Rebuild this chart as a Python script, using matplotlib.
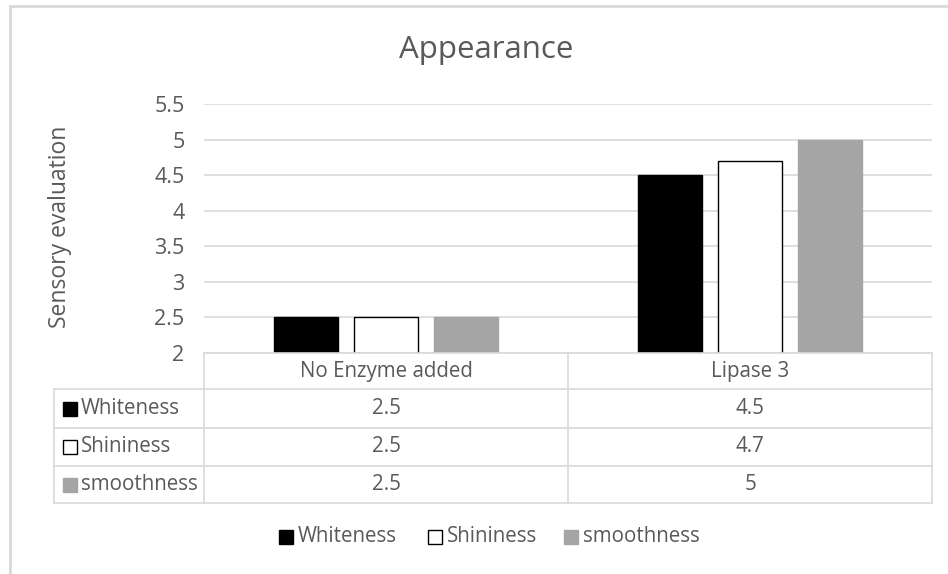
import matplotlib
matplotlib.use("Agg")
import matplotlib.pyplot as plt
from matplotlib.patches import Rectangle
from matplotlib.lines import Line2D
import numpy as np

plt.rcParams['font.family'] = ['Open Sans', 'DejaVu Sans']

categories = ["No Enzyme added", "Lipase 3"]
series_names = ["Whiteness", "Shininess", "smoothness"]
whiteness = [2.5, 4.5]
shininess = [2.5, 4.7]
smoothness = [2.5, 5.0]
yticks = [2, 2.5, 3, 3.5, 4, 4.5, 5, 5.5]

series_values = [whiteness, shininess, smoothness]
face_colors = ["#000000", "#ffffff", "#a5a5a5"]
edge_colors = ["#000000", "#000000", "#a5a5a5"]

TEXT = "#595959"
GRID = "#d9d9d9"
FS = 14.8
W, H = 948, 574
fig = plt.figure(figsize=(W / 100, H / 100), dpi=100)


def fx(px):
    return px / W


def fy(py):
    return 1 - py / H


# plot area
left, right, top, bottom = 204, 932, 104, 353
ax = fig.add_axes([fx(left), fy(bottom), fx(right - left), (bottom - top) / H])
x = np.arange(len(categories))
bar_w = 0.176
step = 0.221
for i, vals in enumerate(series_values):
    ax.bar(x + (i - 1) * step, np.array(vals) - yticks[0], bottom=yticks[0],
           width=bar_w, color=face_colors[i], edgecolor=edge_colors[i],
           linewidth=1.0, zorder=3, label=series_names[i])
ax.set_xlim(-0.5, len(categories) - 0.5)
ax.set_ylim(yticks[0], yticks[-1])
ax.set_yticks(yticks)
ax.set_yticklabels([f"{t:g}" for t in yticks], color=TEXT, fontsize=15.5)
ax.tick_params(axis='y', length=0, pad=14)
ax.set_xticks([])
for s in ax.spines.values():
    s.set_visible(False)
ax.grid(axis='y', color=GRID, linewidth=1.2, zorder=0)
ax.set_axisbelow(True)

fig.text(fx(60), fy(227), "Sensory evaluation", rotation=90, ha='center',
         va='center', color=TEXT, fontsize=16.5)
fig.text(fx(486), fy(50), "Appearance", ha='center', va='center',
         color=TEXT, fontsize=22.5)

# data table under the plot area
col_edges = [left, (left + right) / 2, right]
row_edges = [353, 389, 428, 466, 503]
label_left = 54


def hline(y, x0, x1):
    fig.add_artist(Line2D([fx(x0), fx(x1)], [fy(y), fy(y)], color=GRID,
                          linewidth=1.2, transform=fig.transFigure))


def vline(xp, y0, y1):
    fig.add_artist(Line2D([fx(xp), fx(xp)], [fy(y0), fy(y1)], color=GRID,
                          linewidth=1.2, transform=fig.transFigure))


hline(row_edges[0], left, right)
for r in row_edges[1:]:
    hline(r, label_left, right)
for c in col_edges:
    vline(c, row_edges[0], row_edges[-1])
vline(label_left, row_edges[1], row_edges[-1])

for j, cat in enumerate(categories):
    cx = (col_edges[j] + col_edges[j + 1]) / 2
    cy = (row_edges[0] + row_edges[1]) / 2
    fig.text(fx(cx), fy(cy), cat, ha='center', va='center', color=TEXT,
             fontsize=FS)
    for i, vals in enumerate(series_values):
        cy = (row_edges[i + 1] + row_edges[i + 2]) / 2
        fig.text(fx(cx), fy(cy), f"{vals[j]:g}", ha='center', va='center',
                 color=TEXT, fontsize=FS)


def swatch(x0, yc, i, size=14):
    fig.add_artist(Rectangle((fx(x0), fy(yc + size / 2)), fx(size), size / H,
                             facecolor=face_colors[i],
                             edgecolor="#000000" if i < 2 else face_colors[i],
                             linewidth=1.0, transform=fig.transFigure))


for i, name in enumerate(series_names):
    cy = (row_edges[i + 1] + row_edges[i + 2]) / 2
    swatch(63, cy, i)
    fig.text(fx(81), fy(cy), name, ha='left', va='center', color=TEXT,
             fontsize=FS)

# legend row
legend_x = [279, 428, 564]
for i, name in enumerate(series_names):
    swatch(legend_x[i], 537, i)
    fig.text(fx(legend_x[i] + 19), fy(537), name, ha='left', va='center',
             color=TEXT, fontsize=FS)

# chart frame
fig.add_artist(Line2D([fx(10), fx(W)], [fy(6), fy(6)], color=GRID,
                      linewidth=2, transform=fig.transFigure))
fig.add_artist(Line2D([fx(10), fx(10)], [fy(6), fy(H)], color=GRID,
                      linewidth=2, transform=fig.transFigure))

fig.savefig("out.png", dpi=100, facecolor="white")
